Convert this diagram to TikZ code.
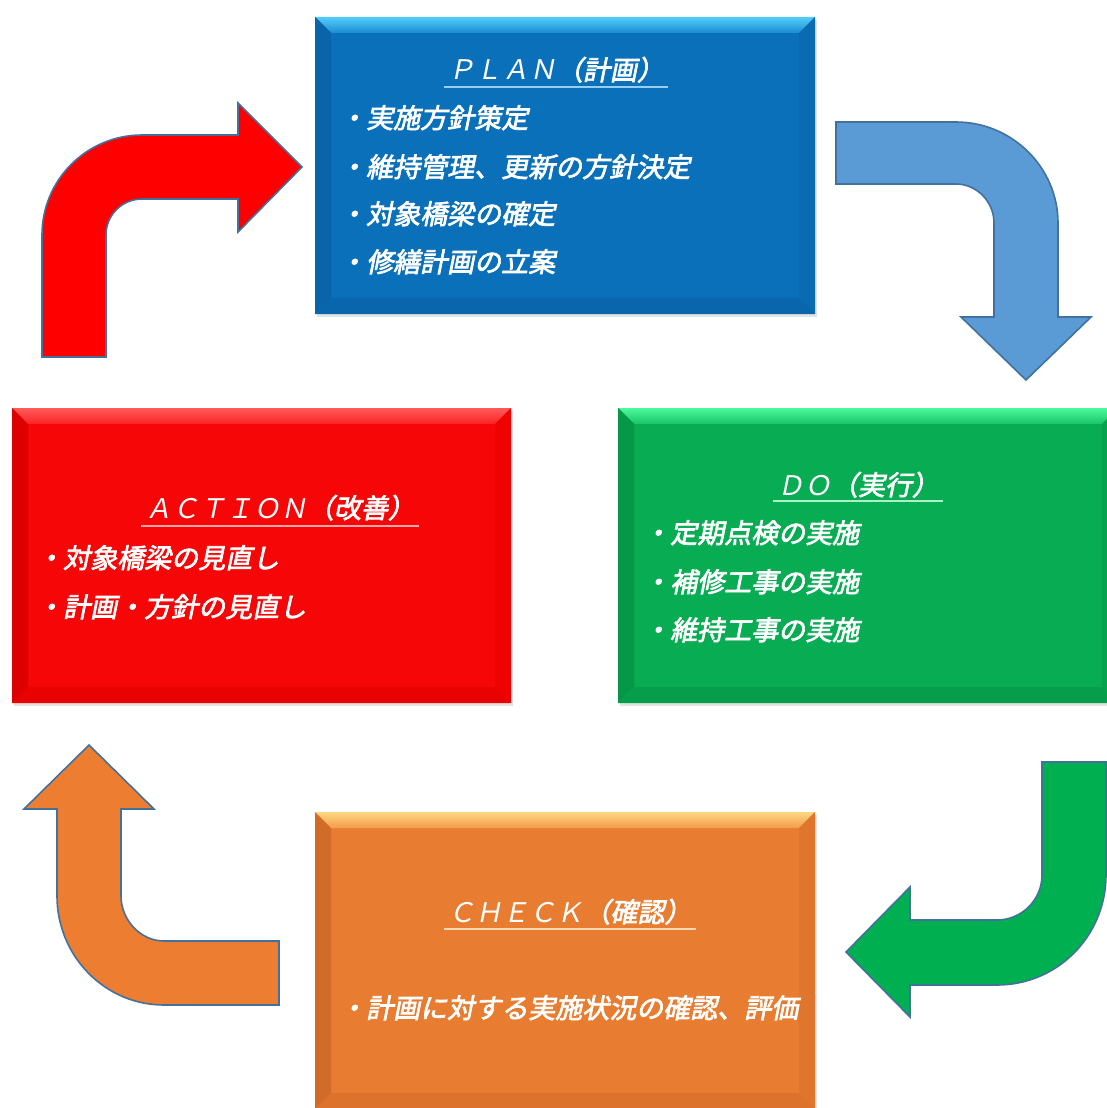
\documentclass[tikz,border=0pt]{standalone}
\usepackage{fontspec}
\usetikzlibrary{calc,shadows}
\newfontfamily\jpr[FakeSlant=0.2]{Noto Sans CJK JP}
\newfontfamily\jpb[FakeSlant=0.2,FakeBold=2.6]{Noto Sans CJK JP}
\definecolor{arrowEdge}{RGB}{65,113,156}
\definecolor{redA}{RGB}{255,0,0}
\definecolor{blueA}{RGB}{91,155,213}
\definecolor{greenA}{RGB}{0,176,80}
\definecolor{orangeA}{RGB}{237,125,49}
% PLAN
\definecolor{planMain}{RGB}{11,112,186}
\definecolor{planTop}{RGB}{85,205,250}
\definecolor{planTopB}{RGB}{25,140,210}
\definecolor{planLeft}{RGB}{9,100,170}
\definecolor{planRight}{RGB}{10,106,178}
\definecolor{planBot}{RGB}{9,102,172}
\definecolor{planLine}{RGB}{150,205,240}
% ACTION
\definecolor{actMain}{RGB}{246,6,6}
\definecolor{actTop}{RGB}{255,90,90}
\definecolor{actTopB}{RGB}{250,35,35}
\definecolor{actLeft}{RGB}{220,0,0}
\definecolor{actRight}{RGB}{238,2,2}
\definecolor{actBot}{RGB}{232,2,2}
\definecolor{actLine}{RGB}{255,170,170}
% DO
\definecolor{doMain}{RGB}{8,172,82}
\definecolor{doTop}{RGB}{75,250,155}
\definecolor{doTopB}{RGB}{25,195,105}
\definecolor{doLeft}{RGB}{6,152,72}
\definecolor{doRight}{RGB}{7,162,78}
\definecolor{doBot}{RGB}{6,158,74}
\definecolor{doLine}{RGB}{170,240,200}
% CHECK
\definecolor{chkMain}{RGB}{232,125,50}
\definecolor{chkTop}{RGB}{255,215,130}
\definecolor{chkTopB}{RGB}{242,155,75}
\definecolor{chkLeft}{RGB}{208,108,40}
\definecolor{chkRight}{RGB}{224,118,45}
\definecolor{chkBot}{RGB}{220,114,43}
\definecolor{chkLine}{RGB}{255,215,180}
\begin{document}
\begin{tikzpicture}[x=1pt,y=-1pt,
  bevelbox/.style={rectangle, inner sep=0pt, fill=#1Main,
    drop shadow={opacity=0.22, shadow xshift=2pt, shadow yshift=-3pt},
    path picture={
      \path (path picture bounding box.north west) coordinate (nw)
            (path picture bounding box.south east) coordinate (se);
      \path (se |- nw) coordinate (ne) (nw |- se) coordinate (sw);
      \path ($(nw)+(16pt,-16pt)$) coordinate (inw) ($(se)+(-16pt,16pt)$) coordinate (ise);
      \path (ise |- inw) coordinate (ine) (inw |- ise) coordinate (isw);
      \shade[top color=#1Top, bottom color=#1TopB] (nw) -- (ne) -- (ine) -- (inw) -- cycle;
      \fill[#1Left] (nw) -- (inw) -- (isw) -- (sw) -- cycle;
      \fill[#1Right] (ne) -- (ine) -- (ise) -- (se) -- cycle;
      \fill[#1Bot] (sw) -- (isw) -- (ise) -- (se) -- cycle;
    }},
  ttl/.style={anchor=base, text=white, inner xsep=4pt, inner ysep=0pt,
    font=\fontsize{27}{32}\selectfont},
  itm/.style={anchor=base west, text=white, inner sep=0pt,
    font=\jpb\fontsize{27}{32}\selectfont},
  uline/.style={draw=#1, line width=2pt},
  bend/.style={fill=#1, draw=arrowEdge, line width=1.6pt, line join=miter}
]
\useasboundingbox (0,0) rectangle (1107,1108);

% boxes
\node[bevelbox=plan, minimum width=500pt, minimum height=297pt] (plan) at (565,165.5) {};
\node[bevelbox=act,  minimum width=499pt, minimum height=295pt] (action) at (261.5,555.5) {};
\node[bevelbox=do,   minimum width=500pt, minimum height=295pt] (do) at (868,555.5) {};
\node[bevelbox=chk,  minimum width=500pt, minimum height=297pt] (check) at (565,960.5) {};

% PLAN text
\node[ttl] (planT) at (556,80) {\jpr ＰＬＡＮ\jpb（計画）};
\draw[uline=planLine] ($(planT.base west)+(0,7)$) -- ($(planT.base east)+(0,7)$);
\node[itm] (plan1) at (339,128) {・実施方針策定};
\node[itm] (plan2) at (339,177) {・維持管理、更新の方針決定};
\node[itm] (plan3) at (339,224) {・対象橋梁の確定};
\node[itm] (plan4) at (339,272) {・修繕計画の立案};

% ACTION text
\node[ttl] (actT) at (280,518) {\jpr ＡＣＴＩＯＮ\jpb（改善）};
\draw[uline=actLine] ($(actT.base west)+(0,8)$) -- ($(actT.base east)+(0,8)$);
\node[itm] (act1) at (36,568) {・対象橋梁の見直し};
\node[itm] (act2) at (36,617) {・計画・方針の見直し};

% DO text
\node[ttl] (doT) at (858,495) {\jpr ＤＯ\jpb（実行）};
\draw[uline=doLine] ($(doT.base west)+(0,6)$) -- ($(doT.base east)+(0,6)$);
\node[itm] (do1) at (643,543) {・定期点検の実施};
\node[itm] (do2) at (643,592) {・補修工事の実施};
\node[itm] (do3) at (643,640) {・維持工事の実施};

% CHECK text
\node[ttl] (chkT) at (570,922) {\jpr ＣＨＥＣＫ\jpb（確認）};
\draw[uline=chkLine] ($(chkT.base west)+(0,7)$) -- ($(chkT.base east)+(0,7)$);
\node[itm] (chk1) at (339,1018) {・計画に対する実施状況の確認、評価};

% bent arrows
% ACTION -> PLAN (red)
\path[bend=redA] (42,357) -- (42,235) .. controls (42,179.8) and (86.8,135) .. (142,135)
  -- (238,135) -- (238,103) -- (302,167) -- (238,232) -- (238,199) -- (142,199)
  .. controls (122.1,199) and (106,215.1) .. (106,235) -- (106,357) -- cycle;
% PLAN -> DO (blue)
\path[bend=blueA] (836,122) -- (956,122) .. controls (1011.8,122) and (1058,167.2) .. (1058,223)
  -- (1058,317) -- (1091,317) -- (1026,380) -- (961,317) -- (994,317) -- (994,223)
  .. controls (994,202) and (977,184) .. (956,184) -- (836,184) -- cycle;
% DO -> CHECK (green)
\path[bend=greenA] (1042,762) -- (1106,762) -- (1106,875) .. controls (1106,935.7) and (1057.7,985) .. (997,985)
  -- (910,985) -- (910,1017) -- (846,952) -- (910,887) -- (910,920) -- (997,920)
  .. controls (1021.8,920) and (1042,899.8) .. (1042,875) -- cycle;
% CHECK -> ACTION (orange)
\path[bend=orangeA] (279,941) -- (164,941) .. controls (140.3,941) and (121,919.7) .. (121,896)
  -- (121,809) -- (154,809) -- (89,745) -- (24,809) -- (57,809) -- (57,896)
  .. controls (57,955.6) and (104.4,1005) .. (164,1005) -- (279,1005) -- cycle;
\end{tikzpicture}
\end{document}
